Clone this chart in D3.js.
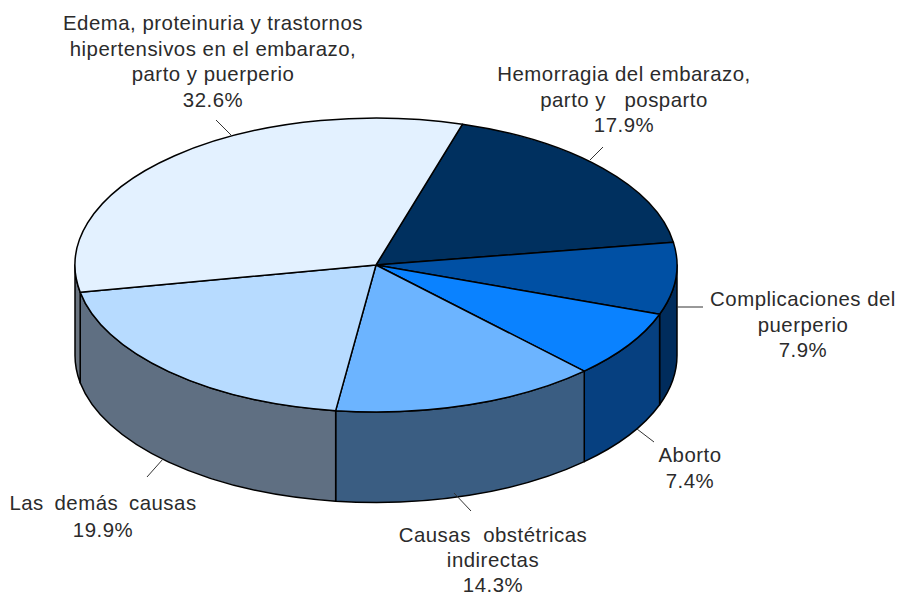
<!DOCTYPE html>
<html>
<head>
<meta charset="utf-8">
<script src="https://cdn.jsdelivr.net/npm/d3@7"></script>
<style>
  html, body { margin: 0; padding: 0; background: #fff; }
  svg { display: block; }
  text { font-family: "Liberation Sans", Arial, sans-serif; font-size: 20.4px; letter-spacing: 0.5px; fill: #2b2b2b; text-anchor: middle; }
</style>
</head>
<body>
<svg></svg>
<script>
// DATA (clockwise from the dark slice)
var categories = ["Hemorragia", "Complicaciones", "Aborto", "Indirectas", "Demas", "Edema"];
var shares = [17.9, 7.9, 7.4, 14.3, 19.9, 32.6];
var shareLabels = ["17.9%", "7.9%", "7.4%", "14.3%", "19.9%", "32.6%"];
var labelLines = [
  ["Hemorragia del embarazo,", "parto y\u00a0\u00a0 posparto"],
  ["Complicaciones del", "puerperio"],
  ["Aborto"],
  ["Causas\u00a0 obst\u00e9tricas", "indirectas"],
  ["Las\u00a0\u2009dem\u00e1s\u00a0\u2009causas"],
  ["Edema, proteinuria y trastornos", "hipertensivos en el embarazo,", "parto y puerperio"]
];
var topColors = ["#00305f", "#0050a4", "#0a82ff", "#6cb4ff", "#b7dbff", "#e3f1ff"];
var sideColors = ["#002a55", "#002c5c", "#064080", "#3a5d82", "#5f6f82", "#6a7480"];

var svg_width = 897;
var svg_height = 596;
var cx = 376, cy = 265;
var rx = 301, ry = 147;
var depth = 90.5;
var squash = ry / rx;

// label placement: centre x, first baseline y, line step, leader from-to
var labelPos = [
  { x: 624, y: 81, step: 25.7, leader: [603, 147, 590, 160] },
  { x: 803, y: 306, step: 25.7, leader: [703, 307, 677, 307] },
  { x: 690, y: 462, step: 25.7, leader: [654, 442, 637, 429] },
  { x: 493, y: 542, step: 24.8, leader: [471, 511, 454, 493] },
  { x: 103, y: 510, step: 26.5, leader: [147, 477, 163, 459] },
  { x: 213, y: 30, step: 25.7, leader: [216, 120, 232, 136] }
];

var svg = d3.select("svg")
    .attr("width", svg_width)
    .attr("height", svg_height);

var rad = Math.PI / 180;
var pie = d3.pie()
    .sort(null)
    .startAngle(16.7 * rad)
    .endAngle(376.7 * rad);
var slices = pie(shares);

// the whole pie is a circle of radius rx, squashed into an ellipse
var g = svg.append("g")
    .attr("transform", "translate(" + cx + "," + cy + ") scale(1," + squash + ")");

// WALLS: only the front half (pie angles 90 to 270 degrees) is visible
function wallPath(d) {
  var a0 = Math.max(d.startAngle, 90 * rad) - Math.PI / 2;
  var a1 = Math.min(d.endAngle, 270 * rad) - Math.PI / 2;
  if (a1 <= a0) return null;
  var drop = depth / squash;
  var p = d3.path();
  p.arc(0, 0, rx, a0, a1);
  p.arc(0, drop, rx, a1, a0, true);
  p.closePath();
  return p.toString();
}

g.selectAll("path.wall")
    .data(slices)
    .enter()
    .append("path")
      .attr("class", "wall")
      .attr("d", wallPath)
      .attr("fill", function(d, i) { return sideColors[i]; })
      .attr("stroke", "#000")
      .attr("stroke-width", 1.5)
      .attr("stroke-linejoin", "round")
      .attr("vector-effect", "non-scaling-stroke");

// TOP
var arc = d3.arc().innerRadius(0).outerRadius(rx);

g.selectAll("path.top")
    .data(slices)
    .enter()
    .append("path")
      .attr("class", "top")
      .attr("d", arc)
      .attr("fill", function(d, i) { return topColors[i]; })
      .attr("stroke", "#000")
      .attr("stroke-width", 1.5)
      .attr("stroke-linejoin", "round")
      .attr("vector-effect", "non-scaling-stroke");

// LEADERS
svg.selectAll("line.leader")
    .data(labelPos)
    .enter()
    .append("line")
      .attr("class", "leader")
      .attr("x1", function(d) { return d.leader[0]; })
      .attr("y1", function(d) { return d.leader[1]; })
      .attr("x2", function(d) { return d.leader[2]; })
      .attr("y2", function(d) { return d.leader[3]; })
      .attr("stroke", "#333")
      .attr("stroke-width", 1);

// LABELS
var labels = svg.selectAll("text.label")
    .data(labelPos)
    .enter()
    .append("text")
      .attr("class", "label");

labels.each(function(d, i) {
  var lines = labelLines[i].concat(shareLabels[i]);
  d3.select(this).selectAll("tspan")
      .data(lines)
      .enter()
      .append("tspan")
        .attr("x", d.x)
        .attr("y", function(t, j) { return d.y + j * d.step; })
        .text(function(t) { return t; });
});
</script>
</body>
</html>
